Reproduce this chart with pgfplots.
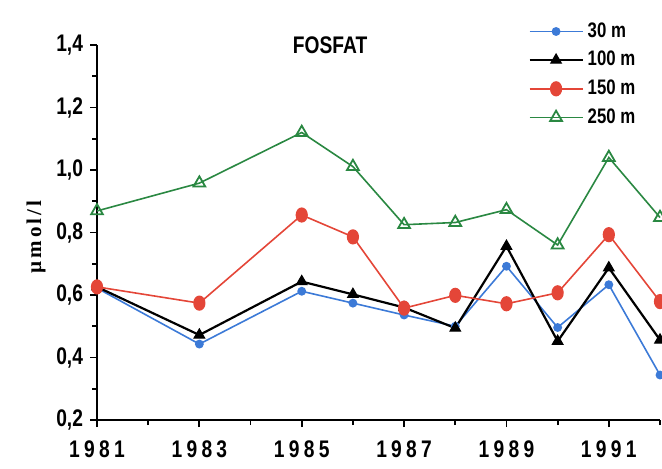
\documentclass[border=0pt]{standalone}
\usepackage{fontspec}
\setmainfont{Liberation Sans}
\newfontfamily\narrowsans[FakeStretch=0.8]{Liberation Sans}
\newfontfamily\yearfont[FakeStretch=0.8,LetterSpace=18]{Liberation Sans}
\newfontfamily\unitfont[LetterSpace=15]{Liberation Serif}
\usepackage{pgfplots}
\pgfplotsset{compat=1.18}

\definecolor{c30}{RGB}{60,122,215}
\definecolor{c150}{RGB}{228,70,56}
\definecolor{c250}{RGB}{42,136,66}

\begin{document}
\begin{tikzpicture}
\path[use as bounding box] (0,0) rectangle (331pt,234pt);
\begin{axis}[
  at={(48.5pt,24pt)}, anchor=south west,
  scale only axis, width=281.5pt, height=187.5pt,
  xmin=1981, xmax=1992, ymin=0.2, ymax=1.4,
  axis x line*=bottom, axis y line*=left,
  axis line style={line width=1pt,-},
  tick align=outside,
  major tick length=3.5pt, minor tick length=2.5pt,
  every tick/.style={line width=0.9pt, black},
  xtick={1981,1983,1985,1987,1989,1991},
  xticklabels={1981,1983,1985,1987,1989,1991},
  minor xtick={1982,1984,1986,1988,1990,1992},
  ytick={0.2,0.4,0.6,0.8,1.0,1.2,1.4},
  minor ytick={0.3,0.5,0.7,0.9,1.1,1.3},
  yticklabel={\pgfmathprintnumber[fixed,fixed zerofill,precision=1,use comma]{\tick}},
  /pgf/number format/assume math mode=true,
  xticklabel style={font=\yearfont\bfseries\fontsize{12}{14}\selectfont, yshift=-3.5pt},
  yticklabel style={font=\narrowsans\bfseries\fontsize{12}{14}\selectfont},
  ylabel={µmol/l},
  ylabel style={font=\unitfont\bfseries\fontsize{10.5}{12}\selectfont,
    at={(axis description cs:-0.108,0.488)}, anchor=center, rotate=0},
  clip=false,
  legend cell align=left,
  legend image code/.code={%
    \draw[mark repeat=2,mark phase=2] plot coordinates {(0pt,0pt) (13.25pt,0pt) (26.5pt,0pt)};},
  legend style={draw=none, fill=none, at={(0.755,1.082)}, anchor=north west,
    font=\narrowsans\bfseries\fontsize{10.5}{12}\selectfont,
    row sep=1.5pt,
    /tikz/every even column/.append style={column sep=9pt}},
]
% 30 m
\addplot[color=c30, line width=0.8pt, mark=*, mark size=1.8pt] coordinates {
  (1981,0.622) (1983,0.443) (1985,0.612) (1986,0.574) (1987,0.536)
  (1988,0.500) (1989,0.692) (1990,0.496) (1991,0.633) (1992,0.344)};
% 100 m
\addplot[color=black, line width=1.1pt, mark=triangle*, mark size=3pt,
  mark options={line width=0.6pt}] coordinates {
  (1981,0.626) (1983,0.472) (1985,0.643) (1986,0.602) (1987,0.560)
  (1988,0.494) (1989,0.756) (1990,0.452) (1991,0.687) (1992,0.456)};
% 150 m
\addplot[color=c150, line width=0.8pt, mark=*, mark size=3.4pt,
  mark options={xscale=0.78}] coordinates {
  (1981,0.626) (1983,0.574) (1985,0.856) (1986,0.786) (1987,0.558)
  (1988,0.599) (1989,0.572) (1990,0.607) (1991,0.793) (1992,0.579)};
% 250 m
\addplot[color=c250, line width=0.8pt, mark=triangle, mark size=3.4pt,
  mark options={fill=white, line width=0.9pt}] coordinates {
  (1981,0.869) (1983,0.958) (1985,1.120) (1986,1.011) (1987,0.825)
  (1988,0.832) (1989,0.873) (1990,0.760) (1991,1.040) (1992,0.848)};
\legend{30 m,100 m,150 m,250 m}
\node[font=\narrowsans\bfseries\fontsize{12}{14}\selectfont] at (axis description cs:0.414,1.0) {FOSFAT};
\end{axis}
\end{tikzpicture}
\end{document}
